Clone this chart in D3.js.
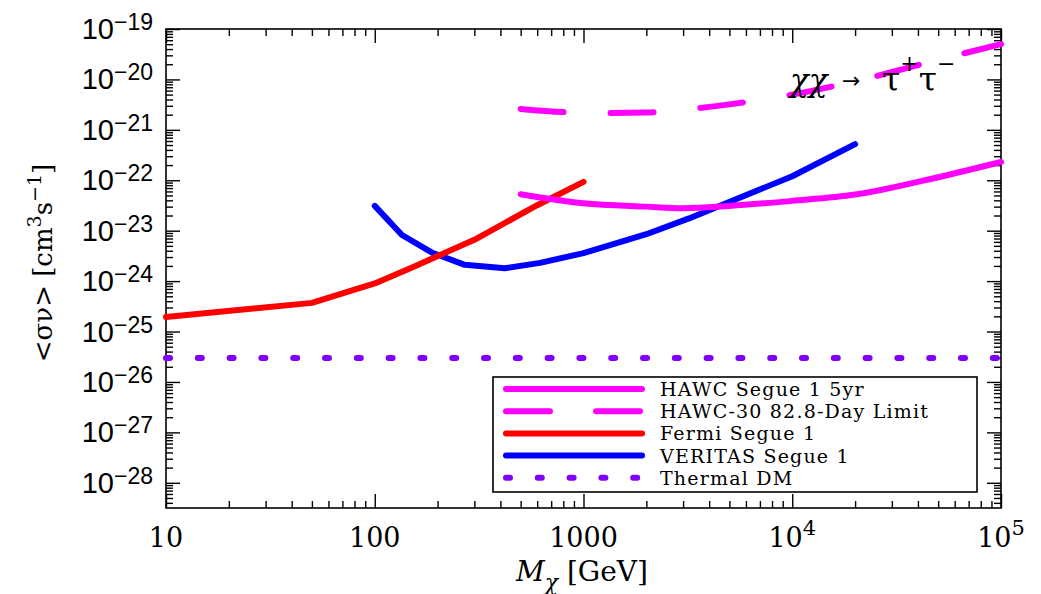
<!DOCTYPE html>
<html>
<head>
<meta charset="utf-8">
<script src="https://cdn.jsdelivr.net/npm/d3@7"></script>
<style>
    body { margin: 0; background: #fff; }
</style>
</head>
<body>
<div id="vis"></div>
<script>
// values (mass in GeV, <sigma v> in cm^3 s^-1)
const hawc5yrMass = [500, 1000, 2000, 3000, 5000, 10000, 20000, 50000, 100000];
const hawc5yrSigma = [5.3e-23, 3.5e-23, 3.0e-23, 2.8e-23, 3.1e-23, 3.9e-23, 5.2e-23, 1.15e-22, 2.3e-22];

const hawc30Mass = [500, 800, 1300, 2000, 3000, 5000, 10000, 20000, 50000, 100000];
const hawc30Sigma = [2.6e-21, 2.25e-21, 2.15e-21, 2.2e-21, 2.5e-21, 3.2e-21, 5.0e-21, 9.2e-21, 2.45e-20, 5.0e-20];

const fermiMass = [10, 50, 100, 150, 300, 600, 1000];
const fermiSigma = [1.95e-25, 3.7e-25, 9.0e-25, 1.85e-24, 6.6e-24, 3.2e-23, 9.3e-23];

const veritasMass = [100, 135, 190, 270, 420, 620, 1000, 2000, 3200, 10000, 20000];
const veritasSigma = [3.1e-23, 8.2e-24, 3.6e-24, 2.1e-24, 1.8e-24, 2.3e-24, 3.6e-24, 8.5e-24, 1.75e-23, 1.2e-22, 5.2e-22];

const thermalMass = [10, 100000];
const thermalSigma = [3e-26, 3e-26];

const xTickValues = [10, 100, 1000, 1e4, 1e5];
const xTickLabels = [["10", ""], ["100", ""], ["1000", ""], ["10", "4"], ["10", "5"]];
const yTickExponents = [-28, -27, -26, -25, -24, -23, -22, -21, -20, -19];

const legendLabels = ["HAWC Segue 1 5yr", "HAWC-30 82.8-Day Limit", "Fermi Segue 1", "VERITAS Segue 1", "Thermal DM"];

(function () {
    const W = 1041, H = 594;
    const left = 166, right = 1001, top = 29, bottom = 508;

    const svg = d3.select("#vis").append("svg")
        .attr("width", W)
        .attr("height", H)
        .style("display", "block")
        .style("background", "#fff");

    const x = d3.scaleLog().domain([10, 1e5]).range([left, right]);
    const y = d3.scaleLog().domain([Math.pow(10, -28.5), 1e-19]).range([bottom, top]);

    // minor tick positions 2..9 per decade
    const xMinor = [];
    for (let e = 1; e < 5; e++) for (let k = 2; k <= 9; k++) xMinor.push(k * Math.pow(10, e));
    const yMinor = [];
    for (let e = -29; e < -19; e++) for (let k = 2; k <= 9; k++) {
        const v = k * Math.pow(10, e);
        if (v >= y.domain()[0] && v <= 1e-19) yMinor.push(v);
    }
    const yMajor = yTickExponents.map(e => Math.pow(10, e));

    function tickAxis(axis, values, size, tr) {
        const g = svg.append("g")
            .attr("transform", tr)
            .call(axis.tickValues(values).tickSize(-size).tickFormat(""));
        g.select(".domain").remove();
        g.selectAll("line").attr("stroke", "#000").attr("stroke-width", 1.4);
    }
    tickAxis(d3.axisBottom(x), xTickValues, 14, `translate(0,${bottom})`);
    tickAxis(d3.axisBottom(x), xMinor, 7, `translate(0,${bottom})`);
    tickAxis(d3.axisTop(x), xTickValues, 14, `translate(0,${top})`);
    tickAxis(d3.axisTop(x), xMinor, 7, `translate(0,${top})`);
    tickAxis(d3.axisLeft(y), yMajor, 14, `translate(${left},0)`);
    tickAxis(d3.axisLeft(y), yMinor, 7, `translate(${left},0)`);
    tickAxis(d3.axisRight(y), yMajor, 14, `translate(${right},0)`);
    tickAxis(d3.axisRight(y), yMinor, 7, `translate(${right},0)`);

    svg.append("rect")
        .attr("x", left).attr("y", top)
        .attr("width", right - left).attr("height", bottom - top)
        .attr("fill", "none").attr("stroke", "#000").attr("stroke-width", 1.6);

    // x tick labels
    xTickValues.forEach((v, i) => {
        const t = svg.append("text")
            .attr("x", x(v)).attr("y", 547)
            .attr("text-anchor", "middle")
            .style("font-family", "DejaVu Serif")
            .style("font-size", "27px");
        t.append("tspan").text(xTickLabels[i][0]);
        if (xTickLabels[i][1]) {
            t.append("tspan").attr("dy", -12).style("font-size", "21px").text(xTickLabels[i][1]);
        }
    });

    // y tick labels 10^n
    yTickExponents.forEach(e => {
        const t = svg.append("text")
            .attr("x", 153).attr("y", y(Math.pow(10, e)) + 10)
            .attr("text-anchor", "end")
            .style("font-family", "Liberation Sans")
            .style("font-size", "29px");
        t.append("tspan").text("10");
        t.append("tspan").attr("dy", -9).style("font-size", "23px").text("\u2212" + Math.abs(e));
    });

    // axis titles
    const xt = svg.append("text")
        .attr("x", 582).attr("y", 581)
        .attr("text-anchor", "middle")
        .style("font-family", "DejaVu Serif")
        .style("font-size", "28px");
    xt.append("tspan").style("font-style", "italic").text("M");
    xt.append("tspan").attr("dy", 9).style("font-size", "22px").style("font-style", "italic").text("\u03c7");
    xt.append("tspan").attr("dy", -9).text(" [GeV]");

    const yt = svg.append("text")
        .attr("transform", "translate(52,263) rotate(-90)")
        .attr("text-anchor", "middle")
        .style("font-family", "DejaVu Serif")
        .style("font-size", "26px");
    yt.append("tspan").text("<\u03c3\u03bd> [cm");
    yt.append("tspan").attr("dy", -11).style("font-size", "19px").text("3");
    yt.append("tspan").attr("dy", 11).text("s");
    yt.append("tspan").attr("dy", -11).style("font-size", "19px").text("\u22121");
    yt.append("tspan").attr("dy", 11).text("]");

    // series
    const series = [
        { mass: hawc5yrMass, sigma: hawc5yrSigma, color: "#ff00ff", dash: null, curve: d3.curveMonotoneX },
        { mass: hawc30Mass, sigma: hawc30Sigma, color: "#ff00ff", dash: "43,47", curve: d3.curveMonotoneX },
        { mass: fermiMass, sigma: fermiSigma, color: "#ff0000", dash: null, curve: d3.curveLinear },
        { mass: veritasMass, sigma: veritasSigma, color: "#0000ff", dash: null, curve: d3.curveLinear },
        { mass: thermalMass, sigma: thermalSigma, color: "#7f00ff", dash: "4,27.8", curve: d3.curveLinear }
    ];

    series.slice().reverse().forEach(s => {
        const pts = s.mass.map((m, i) => [m, s.sigma[i]]);
        const line = d3.line().x(d => x(d[0])).y(d => y(d[1])).curve(s.curve);
        svg.append("path")
            .datum(pts)
            .attr("fill", "none")
            .attr("stroke", s.color)
            .attr("stroke-width", 6)
            .attr("stroke-linecap", "round")
            .attr("stroke-linejoin", "round")
            .attr("stroke-dasharray", s.dash)
            .attr("d", line);
    });

    // legend
    const lg = svg.append("g");
    lg.append("rect")
        .attr("x", 493).attr("y", 377)
        .attr("width", 484).attr("height", 115)
        .attr("fill", "#fff").attr("stroke", "#000").attr("stroke-width", 1.6);
    series.forEach((s, i) => {
        const cy = 389 + i * 22.2;
        lg.append("line")
            .attr("x1", 506).attr("x2", 642)
            .attr("y1", cy).attr("y2", cy)
            .attr("stroke", s.color)
            .attr("stroke-width", 6)
            .attr("stroke-linecap", "round")
            .attr("stroke-dasharray", s.dash === "43,47" ? "44,46" : s.dash);
        lg.append("text")
            .attr("x", 660).attr("y", cy + 7)
            .style("font-family", "DejaVu Serif")
            .style("font-size", "19px")
            .style("letter-spacing", "1.2px")
            .text(legendLabels[i]);
    });

    // channel annotation
    svg.append("text")
        .attr("x", 790).attr("y", 91)
        .style("font-family", "DejaVu Serif")
        .style("font-style", "italic")
        .style("font-size", "31px")
        .text("\u03c7\u03c7");
    svg.append("text")
        .attr("x", 842).attr("y", 88)
        .style("font-family", "DejaVu Sans")
        .style("font-size", "22px")
        .text("\u2192");
    const tau = svg.append("text")
        .attr("x", 882).attr("y", 91)
        .style("font-family", "DejaVu Serif")
        .style("font-size", "33px");
    tau.append("tspan").text("\u03c4");
    tau.append("tspan").attr("dy", -20).style("font-size", "22px").text("+");
    tau.append("tspan").attr("dy", 20).text("\u03c4");
    tau.append("tspan").attr("dy", -20).style("font-size", "22px").text("\u2212");
})();
</script>
</body>
</html>
